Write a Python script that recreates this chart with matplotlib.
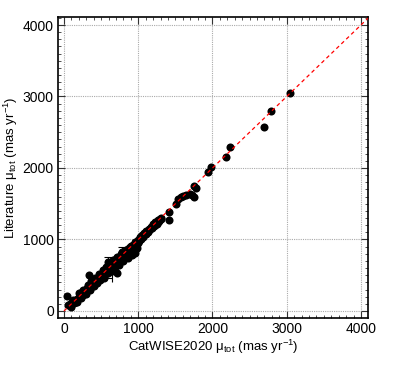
import matplotlib
matplotlib.use("Agg")
import matplotlib.pyplot as plt
from matplotlib.ticker import MultipleLocator

plt.rcParams['font.family'] = ['Liberation Sans', 'DejaVu Sans']
plt.rcParams['mathtext.fontset'] = 'custom'
plt.rcParams['mathtext.rm'] = 'Liberation Sans'
plt.rcParams['mathtext.it'] = 'Liberation Sans'

# CatWISE2020 total proper motion (mas/yr)
cat_mu = [60, 80, 100, 110, 130, 150, 160, 180, 200, 210, 220, 240, 250, 270, 280, 300,
          310, 330, 340, 360, 380, 390, 410, 430, 450, 460, 480, 500, 510, 530, 550, 560,
          580, 600, 610, 630, 650, 660, 680, 700, 710, 730, 750, 760, 780, 790, 800, 820,
          840, 850, 870, 880, 900, 910, 930, 940, 960, 970, 990, 1000, 1020, 1030, 1050,
          1060, 1080, 1090, 1110, 1120, 1140, 1150, 1170, 1180, 1200, 1210, 1230, 1240,
          1260, 1270, 1290, 1300,
          100, 120, 170, 200, 230, 260, 290, 320, 350, 370, 400, 420, 440, 470, 490, 520,
          540, 570, 590, 620, 640, 670, 690, 720, 740, 770, 800, 830, 860, 890, 920, 950,
          980, 1010, 1040, 1070, 1100, 1130, 1160, 1190, 1220, 1250, 1280, 1310,
          40, 340, 590, 718, 780, 540, 664, 888, 956, 900, 950,
          1418, 1418, 1503, 1540, 1570, 1600, 1650, 1700, 1730, 1745, 1755, 1775,
          1935, 1980, 2180, 2230, 2692, 2786, 3038]
# Literature total proper motion (mas/yr)
lit_mu = [80, 100, 90, 120, 110, 140, 130, 170, 190, 240, 200, 260, 230, 250, 290, 280,
          320, 310, 350, 340, 390, 370, 420, 410, 460, 440, 490, 480, 520, 500, 560, 530,
          590, 570, 620, 600, 660, 630, 700, 670, 720, 690, 760, 720, 800, 750, 820, 770,
          850, 790, 880, 820, 910, 850, 930, 870, 960, 900, 990, 950, 1030, 1000, 1060,
          1040, 1090, 1070, 1120, 1100, 1150, 1130, 1180, 1160, 1210, 1190, 1240, 1230,
          1270, 1250, 1290, 1280,
          60, 150, 120, 250, 180, 300, 240, 360, 300, 420, 350, 460, 390, 520, 430, 570,
          480, 620, 530, 660, 560, 720, 610, 760, 640, 800, 700, 860, 740, 900, 790, 940,
          880, 980, 1010, 1050, 1080, 1110, 1140, 1170, 1200, 1220, 1260, 1300,
          214, 499, 681, 536, 830, 455, 713, 853, 807, 800, 860,
          1385, 1273, 1497, 1566, 1590, 1615, 1625, 1640, 1620, 1600, 1745, 1725,
          1950, 2010, 2158, 2290, 2578, 2797, 3049]
# error bars for a few sources
err_x = [540]
err_y = [455]
err_xerr = [105]
err_v_x = [780, 590]
err_v_y = [830, 681]
err_v_yerr = [70, 70]

line_vals = [0, 4100]

fig = plt.figure(figsize=(4.07, 3.67), dpi=100)
ax = fig.add_axes([0.1425, 0.1335, 0.7615, 0.8202])

ax.errorbar(err_x, err_y, xerr=err_xerr, fmt='none', ecolor='black', elinewidth=0.8,
            capsize=3, capthick=0.8, zorder=2)
ax.errorbar(err_v_x, err_v_y, yerr=err_v_yerr, fmt='none', ecolor='black', elinewidth=0.8,
            capsize=3, capthick=0.8, zorder=2)
ax.plot(cat_mu, lit_mu, 'o', color='black', markersize=5.8, markeredgewidth=0, zorder=3)
ax.plot(line_vals, line_vals, color='red', linestyle=(0, (3, 2.5)), linewidth=0.9, zorder=4)

ax.set_xlim(-81, 4094)
ax.set_ylim(-98, 4112)
ax.xaxis.set_major_locator(MultipleLocator(1000))
ax.yaxis.set_major_locator(MultipleLocator(1000))
ax.xaxis.set_minor_locator(MultipleLocator(100))
ax.yaxis.set_minor_locator(MultipleLocator(100))
ax.tick_params(which='both', direction='in', top=True, right=True, labelsize=10, color='#333333')
ax.tick_params(which='major', length=5, width=0.8, pad=3)
ax.tick_params(which='minor', length=2.5, width=0.6)
ax.grid(True, which='major', color='#aaaaaa', linestyle=(0, (1, 1)), linewidth=0.8)
ax.set_axisbelow(True)
for s in ax.spines.values():
    s.set_linewidth(1.2)

ax.set_xlabel(r'CatWISE2020 μ$_{\rm tot}$ (mas yr$^{-1}$)', fontsize=9.5, labelpad=1)
ax.set_ylabel(r'Literature μ$_{\rm tot}$ (mas yr$^{-1}$)', fontsize=9.5, labelpad=2)

fig.savefig('out.png', dpi=100)
